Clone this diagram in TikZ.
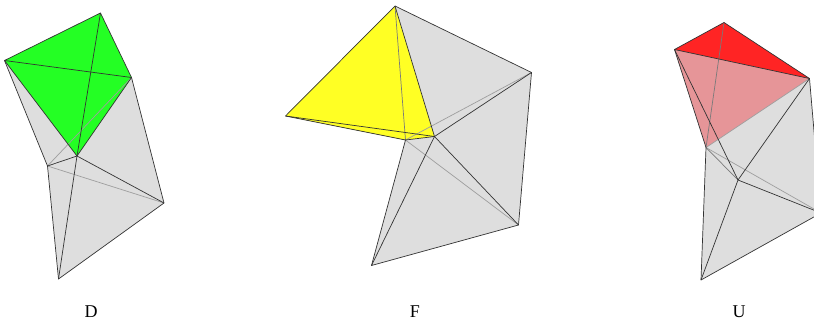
\documentclass[tikz,border=0pt]{standalone}
\usepackage{fontspec}
\setmainfont{Liberation Serif}
\definecolor{facegray}{HTML}{DEDEDE}
\definecolor{facegreen}{HTML}{24FF24}
\definecolor{faceyellow}{HTML}{FFFF24}
\definecolor{facered}{HTML}{FF2424}
\definecolor{facepink}{HTML}{E69598}
\tikzset{
  edgefront/.style={draw=black!80,line width=0.7pt,line join=round},
  edgeback/.style={draw=black!38,line width=0.7pt},
  edgeover/.style={draw=black!52,line width=0.7pt},
  panellabel/.style={font=\fontsize{18}{18}\selectfont,inner sep=0pt,anchor=center}
}
\begin{document}
\begin{tikzpicture}[x=1pt,y=-1pt]
\useasboundingbox (0,0) rectangle (814,324);
\clip (0,0) rectangle (814,324);
% ---------- D ----------
\coordinate (dT) at (100.5,13);
\coordinate (dL) at (4.5,60.5);
\coordinate (dR) at (131.5,77.5);
\coordinate (dC) at (77,156);
\coordinate (dB) at (47.5,166);
\coordinate (dE) at (164,203);
\coordinate (dS) at (58.5,279);
\fill[facegray] (dL) -- (dB) -- (dS) -- (dE) -- (dR) -- cycle;
\fill[facegreen] (dL) -- (dT) -- (dR) -- (dC) -- cycle;
\draw[edgeback] (dB) -- (dR);
\draw[edgeback] (dB) -- (dE);
\draw[edgefront] (dL) -- (dT) -- (dR) -- (dE) -- (dS) -- (dB) -- (dL);
\draw[edgefront] (dL) -- (dC) -- (dR);
\draw[edgefront] (dL) -- (dR);
\draw[edgefront] (dT) -- (dC) -- (dS);
\draw[edgefront] (dB) -- (dC) -- (dE);
\node[panellabel] (dlabel) at (91,312) {D};
% ---------- F ----------
\coordinate (fT) at (395,6);
\coordinate (fL) at (285.5,116);
\coordinate (fC) at (434.5,136.5);
\coordinate (fB) at (405.5,140);
\coordinate (fR) at (531.5,72.5);
\coordinate (fE) at (518.5,225);
\coordinate (fS) at (371.5,265.5);
\fill[facegray] (fT) -- (fR) -- (fE) -- (fS) -- (fB) -- (fC) -- cycle;
\fill[faceyellow] (fT) -- (fL) -- (fB) -- (fC) -- cycle;
\draw[edgeback] (fB) -- (fR);
\draw[edgeback] (fB) -- (fE);
\draw[edgeover] (fT) -- (fB);
\draw[edgefront] (fT) -- (fR) -- (fE) -- (fS) -- (fB) -- (fL) -- cycle;
\draw[edgefront] (fL) -- (fC) -- (fT);
\draw[edgefront] (fB) -- (fC);
\draw[edgefront] (fC) -- (fR);
\draw[edgefront] (fC) -- (fE);
\draw[edgefront] (fC) -- (fS);
\node[panellabel] (flabel) at (415,312) {F};
% ---------- U ----------
\coordinate (uT) at (724,22.5);
\coordinate (uL) at (674.5,49.5);
\coordinate (uR) at (809.5,78.5);
\coordinate (uB) at (706,147.5);
\coordinate (uC) at (738,180);
\coordinate (uE) at (821,213);
\coordinate (uS) at (701,280);
\fill[facegray] (uB) -- (uR) -- (uE) -- (uS) -- cycle;
\fill[facepink] (uL) -- (uR) -- (uB) -- cycle;
\fill[facered] (uL) -- (uT) -- (uR) -- cycle;
\draw[edgeback] (uB) -- (uR);
\draw[edgeback] (uB) -- (uE);
\draw[edgeover] (uT) -- (uB);
\draw[edgeover] (uB) -- (uC);
\draw[edgefront] (uL) -- (uT) -- (uR) -- (uE) -- (uS) -- (uB) -- cycle;
\draw[edgefront] (uL) -- (uR);
\draw[edgefront] (uL) -- (uC);
\draw[edgefront] (uR) -- (uC) -- (uS);
\draw[edgefront] (uC) -- (uE);
\node[panellabel] (ulabel) at (739,312) {U};
\end{tikzpicture}
\end{document}
